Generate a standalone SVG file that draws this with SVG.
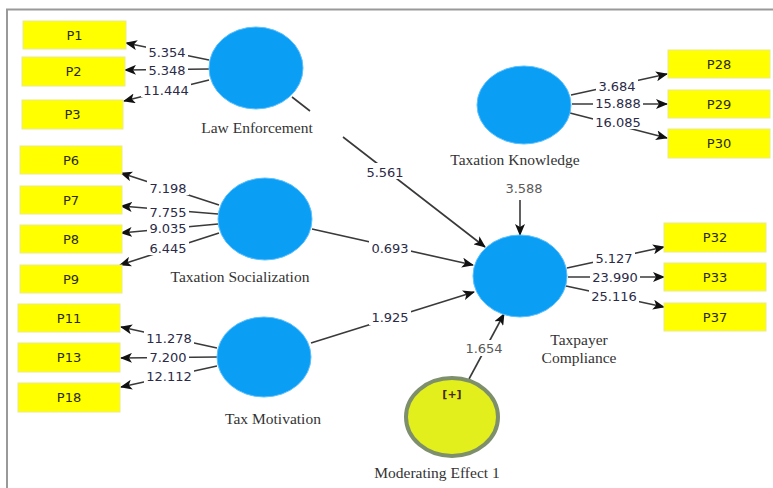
<svg xmlns="http://www.w3.org/2000/svg" width="773" height="488" viewBox="0 0 773 488">
<style>
.box{fill:#ffff00;stroke:#eaea90;stroke-width:1}
.bt{font-family:"DejaVu Sans",sans-serif;font-size:13px;fill:#2a2a1a;text-anchor:middle}
.lv{fill:#0a9ef4;stroke:#5cc0ff;stroke-width:1}
.nl{font-family:"Liberation Serif",serif;font-size:15.5px;fill:#333;text-anchor:middle}
.el{font-family:"DejaVu Sans",sans-serif;font-size:13px;fill:#2b2b48;text-anchor:middle}
.el2{font-family:"DejaVu Sans",sans-serif;font-size:13px;fill:#5a5a5a;text-anchor:middle}
.ln{stroke:#3a3a3a;stroke-width:1.6;fill:none;marker-end:url(#ah)}
.bg{fill:#fff}
</style>
<defs>
<marker id="ah" markerUnits="userSpaceOnUse" markerWidth="12" markerHeight="10" refX="11" refY="5" orient="auto">
<path d="M0,0 L12,5 L0,10 L3,5 z" fill="#111"/>
</marker>
</defs>
<rect x="0" y="0" width="773" height="488" fill="#fff"/>
<path d="M7,488 L7,9.5 L773,9.5" fill="none" stroke="#999" stroke-width="2"/>

<g id="connectors">
<path class="ln" d="M209,60 L126,43"/>
<path class="ln" d="M209,69 L125,70"/>
<path class="ln" d="M209,80 L124,101"/>
<path class="ln" d="M219,205 L121,173"/>
<path class="ln" d="M218,214 L121,206"/>
<path class="ln" d="M218,224 L121,233"/>
<path class="ln" d="M219,233 L120,265"/>
<path class="ln" d="M217,348 L121,327"/>
<path class="ln" d="M217,357 L121,358"/>
<path class="ln" d="M217,366 L121,387"/>
<path class="ln" d="M571,95 L667,74"/>
<path class="ln" d="M572,104 L667,104"/>
<path class="ln" d="M570,113 L667,138"/>
<path class="ln" d="M567,268 L664,247"/>
<path class="ln" d="M568,277 L664,277"/>
<path class="ln" d="M566,286 L664,307"/>
<path class="ln" d="M292,97 L310,111 M343,137 L485,247"/>
<path class="ln" d="M312,229 L473,265"/>
<path class="ln" d="M311,343 L474,292"/>
<path class="ln" d="M520,200 L520,235"/>
<path class="ln" d="M469,379 L504,314"/>
<g id="edge-labels">
<rect class="bg" x="146" y="44" width="42" height="15"/><text class="el" x="167" y="57">5.354</text>
<rect class="bg" x="146" y="62" width="42" height="15"/><text class="el" x="167" y="75">5.348</text>
<rect class="bg" x="141" y="82" width="50" height="15"/><text class="el" x="166" y="95">11.444</text>
<rect class="bg" x="147" y="180" width="42" height="15"/><text class="el" x="168" y="193">7.198</text>
<rect class="bg" x="147" y="204" width="42" height="15"/><text class="el" x="168" y="217">7.755</text>
<rect class="bg" x="147" y="220" width="42" height="15"/><text class="el" x="168" y="233">9.035</text>
<rect class="bg" x="147" y="240" width="42" height="15"/><text class="el" x="168" y="253">6.445</text>
<rect class="bg" x="144" y="330" width="50" height="15"/><text class="el" x="169" y="343">11.278</text>
<rect class="bg" x="147" y="349" width="42" height="15"/><text class="el" x="168" y="362">7.200</text>
<rect class="bg" x="144" y="368" width="50" height="15"/><text class="el" x="169" y="381">12.112</text>
<rect class="bg" x="596" y="78" width="42" height="15"/><text class="el" x="617" y="91">3.684</text>
<rect class="bg" x="593" y="96" width="50" height="15"/><text class="el" x="618" y="108">15.888</text>
<rect class="bg" x="593" y="114" width="50" height="15"/><text class="el" x="618" y="127">16.085</text>
<rect class="bg" x="593" y="250" width="42" height="15"/><text class="el" x="614" y="263">5.127</text>
<rect class="bg" x="590" y="269" width="50" height="15"/><text class="el" x="615" y="282">23.990</text>
<rect class="bg" x="589" y="288" width="50" height="15"/><text class="el" x="614" y="301">25.116</text>
<rect class="bg" x="364" y="163" width="42" height="16"/><text class="el" x="385" y="177">5.561</text>
<rect class="bg" x="369" y="240" width="42" height="16"/><text class="el" x="390" y="253">0.693</text>
<rect class="bg" x="369" y="309" width="42" height="16"/><text class="el" x="390" y="322">1.925</text>
<text class="el2" x="524" y="193">3.588</text>
<rect class="bg" x="463" y="340" width="42" height="16"/><text class="el2" x="484" y="353">1.654</text>
</g>
</g>

<g id="P1"><rect class="box" x="23" y="21" width="103" height="28"/><text class="bt" x="74.5" y="40">P1</text></g>
<g id="P2"><rect class="box" x="22" y="57" width="103" height="29"/><text class="bt" x="73.5" y="76">P2</text></g>
<g id="P3"><rect class="box" x="22" y="100" width="101" height="29"/><text class="bt" x="72.5" y="119">P3</text></g>
<g id="P6"><rect class="box" x="20" y="146" width="102" height="28"/><text class="bt" x="71" y="165">P6</text></g>
<g id="P7"><rect class="box" x="20" y="186" width="102" height="28"/><text class="bt" x="71" y="205">P7</text></g>
<g id="P8"><rect class="box" x="20" y="225" width="102" height="28"/><text class="bt" x="71" y="244">P8</text></g>
<g id="P9"><rect class="box" x="20" y="265" width="102" height="28"/><text class="bt" x="71" y="284">P9</text></g>
<g id="P11"><rect class="box" x="18" y="304" width="102" height="28"/><text class="bt" x="69" y="323">P11</text></g>
<g id="P13"><rect class="box" x="18" y="343" width="102" height="29"/><text class="bt" x="69" y="362">P13</text></g>
<g id="P18"><rect class="box" x="18" y="383" width="102" height="29"/><text class="bt" x="69" y="402">P18</text></g>
<g id="P28"><rect class="box" x="668" y="50" width="102" height="28"/><text class="bt" x="719" y="69">P28</text></g>
<g id="P29"><rect class="box" x="668" y="90" width="102" height="28"/><text class="bt" x="719" y="109">P29</text></g>
<g id="P30"><rect class="box" x="668" y="129" width="102" height="29"/><text class="bt" x="719" y="148">P30</text></g>
<g id="P32"><rect class="box" x="664" y="223" width="102" height="29"/><text class="bt" x="715" y="242">P32</text></g>
<g id="P33"><rect class="box" x="664" y="263" width="102" height="28"/><text class="bt" x="715" y="282">P33</text></g>
<g id="P37"><rect class="box" x="664" y="303" width="102" height="28"/><text class="bt" x="715" y="322">P37</text></g>

<g id="law-enforcement"><ellipse class="lv" cx="256" cy="68" rx="47" ry="41"/><text class="nl" x="257" y="133">Law Enforcement</text></g>
<g id="taxation-socialization"><ellipse class="lv" cx="265" cy="219" rx="47" ry="41"/><text class="nl" x="240" y="282">Taxation Socialization</text></g>
<g id="tax-motivation"><ellipse class="lv" cx="264" cy="357" rx="47" ry="40"/><text class="nl" x="273" y="424">Tax Motivation</text></g>
<g id="taxation-knowledge"><ellipse class="lv" cx="524" cy="105" rx="47" ry="39"/><text class="nl" x="515" y="165">Taxation Knowledge</text></g>
<g id="taxpayer-compliance"><ellipse class="lv" cx="520" cy="276" rx="47" ry="41"/><text class="nl" x="579" y="345">Taxpayer</text><text class="nl" x="579" y="363">Compliance</text></g>
<g id="moderating-effect-1"><ellipse cx="452" cy="417" rx="46" ry="39" fill="#e2ef1c" stroke="#7e8f6c" stroke-width="4"/><text x="452" y="398" font-family="DejaVu Sans, sans-serif" font-size="11px" font-weight="bold" fill="#4a2a10" text-anchor="middle">[+]</text><text class="nl" x="437" y="478">Moderating Effect 1</text></g>
</svg>
